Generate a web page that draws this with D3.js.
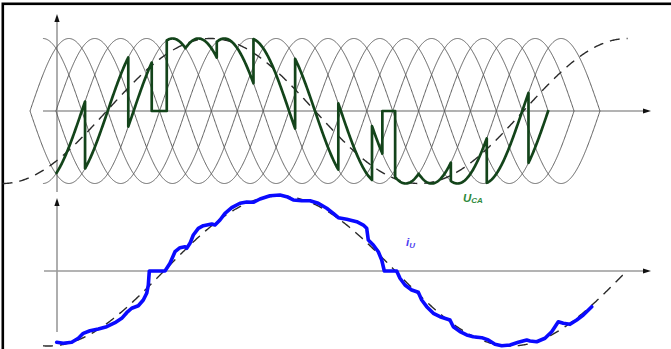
<!DOCTYPE html>
<html><head><meta charset="utf-8">
<script src="https://cdn.jsdelivr.net/npm/d3@7"></script>
<style>html,body{margin:0;padding:0;background:#fff;overflow:hidden}</style>
</head><body><svg id="c" width="671" height="349" xmlns="http://www.w3.org/2000/svg"></svg>
<script>
// ---- supply line-to-line voltages (unit amplitude), phase offsets in supply degrees
const supplyPhase = [0, 60, 120, 180, 240, 300];
const supplyStart = [0, 60, 30, 0, 60, 30];
const supplyEnd   = [1260, 1320, 1200, 1260, 1320, 1200];

// ---- output voltage u_CA: switching angles (supply deg) and selected supply wave (null = zero)
const uBreaks = [60, 127.5, 227.6, 281.9, 316.7, 360, 432.5, 517.5, 614, 714, 792, 816, 845.6, 900, 974.6, 1057.8, 1154.4, 1200.7];
const uWave   = [2, 3, 4, null, 4, 5, 0, 1, 2, 3, 4, null, 4, 5, 0, 1, 2];

// ---- dashed reference sines: [zero-crossing deg, period deg, start deg, end deg]
const uRefParams = [177.7, 965, -63.7, 1383.9];
const iRefParams = [310.3, 1071.5, 23.2, 1381.8];

// ---- output current i_U samples
const iAngle = [61.8,77.1,96.6,111.9,123.4,138.9,158.2,177.6,196.8,212.4,223.9,235.5,250.8,262.4,270.2,274.0,276.3,312.6,324.2,335.8,347.4,358.9,362.9,370.5,378.2,389.8,401.3,420.8,428.4,440,451.6,467.1,486.3,501.8,517.1,532.6,555.8,578.9,594.5,609.7,629.2,648.4,667.6,687.1,702.4,714,733.4,756.6,771.9,779.7,783.4,795,806.6,814.5,820.5,849.2,856.8,868.4,883.9,899.2,907.1,918.7,934,949.5,972.6,980.3,995.8,1011.3,1026.6,1046.1,1061.3,1076.8,1092.4,1111.6,1130.8,1150.3,1157.9,1173.4,1192.6,1208.2,1223.4,1235,1250.5,1266,1281.3,1300.8];
const iValue = [-0.951,-0.964,-0.951,-0.897,-0.831,-0.796,-0.773,-0.743,-0.689,-0.631,-0.556,-0.497,-0.463,-0.387,-0.297,-0.187,0,0,0.103,0.257,0.311,0.324,0.303,0.369,0.48,0.569,0.604,0.627,0.613,0.68,0.769,0.844,0.903,0.92,0.916,0.96,1.004,1.013,0.991,0.947,0.937,0.937,0.903,0.836,0.769,0.711,0.689,0.657,0.613,0.569,0.413,0.347,0.257,0.147,0,0,-0.097,-0.187,-0.253,-0.284,-0.387,-0.476,-0.564,-0.609,-0.653,-0.743,-0.809,-0.853,-0.876,-0.889,-0.92,-0.977,-0.996,-0.987,-0.951,-0.92,-0.933,-0.943,-0.897,-0.809,-0.676,-0.697,-0.711,-0.653,-0.587,-0.476];

const svg = d3.select('#c');
const x = d3.scaleLinear().domain([0, 1320]).range([30, 600]);
const yTop = d3.scaleLinear().domain([-1, 1]).range([183.5, 38.5]);
const yBot = d3.scaleLinear().domain([-1, 1]).range([346, 196]);
const rad = Math.PI / 180;
const wave = (k, t) => Math.sin((t - supplyPhase[k]) * rad);
const range = (a, b, s) => { const r = []; for (let t = a; t < b; t += s) r.push(t); r.push(b); return r; };

// frame
svg.append('rect').attr('x', 2.8).attr('y', 3.8).attr('width', 700).attr('height', 400)
  .attr('fill', 'none').attr('stroke', '#000').attr('stroke-width', 2.6);

// axes
const axisCol = '#9a9a9a';
function axisLine(x1, y1, x2, y2) {
  svg.append('line').attr('x1', x1).attr('y1', y1).attr('x2', x2).attr('y2', y2)
    .attr('stroke', axisCol).attr('stroke-width', 1.6);
}
function arrow(tx, ty, dir) {
  const L = 8, W = 2.6;
  let p;
  if (dir === 'up') p = [[tx, ty], [tx - W, ty + L], [tx + W, ty + L]];
  else p = [[tx, ty], [tx - L, ty - W], [tx - L, ty + W]];
  svg.append('path').attr('d', d3.line()(p) + 'Z').attr('fill', '#111');
}
axisLine(57, 20, 57, 192); arrow(57, 14, 'up');
axisLine(43, 111, 644, 111); arrow(651, 111, 'right');
axisLine(57, 204, 57, 332); arrow(57, 198, 'up');
axisLine(44, 271, 644, 271); arrow(651, 271, 'right');

// supply waves lattice
const lineTop = d3.line().x(d => x(d[0])).y(d => yTop(d[1]));
supplyPhase.forEach((p, k) => {
  const pts = range(supplyStart[k], supplyEnd[k], 1).map(t => [t, wave(k, t)]);
  svg.append('path').attr('d', lineTop(pts)).attr('fill', 'none')
    .attr('stroke', '#5e5e5e').attr('stroke-width', 1);
});

// dashed reference voltage
{
  const [z, P, a, b] = uRefParams;
  const pts = range(a, b, 2).map(t => [t, Math.sin(2 * Math.PI * (t - z) / P)]);
  svg.append('path').attr('d', lineTop(pts)).attr('fill', 'none')
    .attr('stroke', '#2a2a2a').attr('stroke-width', 1.4).attr('stroke-dasharray', '10,7');
}

// output voltage u_CA
{
  const pts = [];
  uWave.forEach((w, i) => {
    range(uBreaks[i], uBreaks[i + 1], 1).forEach(t => pts.push([t, w === null ? 0 : wave(w, t)]));
  });
  svg.append('path').attr('d', lineTop(pts)).attr('fill', 'none')
    .attr('stroke', '#13441a').attr('stroke-width', 2.7).attr('stroke-linejoin', 'round');
}

// bottom: dashed reference current
const lineBot = d3.line().x(d => x(d[0])).y(d => yBot(d[1]));
{
  const [z, P, a, b] = iRefParams;
  const pts = range(a, b, 2).map(t => [t, Math.sin(2 * Math.PI * (t - z) / P)]);
  svg.append('path').attr('d', lineBot(pts)).attr('fill', 'none')
    .attr('stroke', '#2a2a2a').attr('stroke-width', 1.4).attr('stroke-dasharray', '10,7')
    .attr('stroke-dashoffset', 14);
}
// current i_U
svg.append('path').attr('d', lineBot(iAngle.map((t, i) => [t, iValue[i]])))
  .attr('fill', 'none').attr('stroke', '#0a0aff').attr('stroke-width', 3.6)
  .attr('stroke-linejoin', 'round').attr('stroke-linecap', 'round');

// labels
const lu = svg.append('text').attr('x', 463).attr('y', 201.5)
  .attr('font-family', 'Liberation Sans, Arial, sans-serif').attr('font-style', 'italic')
  .attr('font-weight', 'bold').attr('font-size', 11.5).attr('fill', '#2f8a3c');
lu.append('tspan').text('U');
lu.append('tspan').attr('font-size', 8).attr('dy', 1).text('CA');
const li = svg.append('text').attr('x', 406).attr('y', 246)
  .attr('font-family', 'Liberation Sans, Arial, sans-serif').attr('font-style', 'italic')
  .attr('font-weight', 'bold').attr('font-size', 11.5).attr('fill', '#4b3cf0');
li.append('tspan').text('i');
li.append('tspan').attr('font-size', 8).attr('dy', 2).text('U');
</script></body></html>
